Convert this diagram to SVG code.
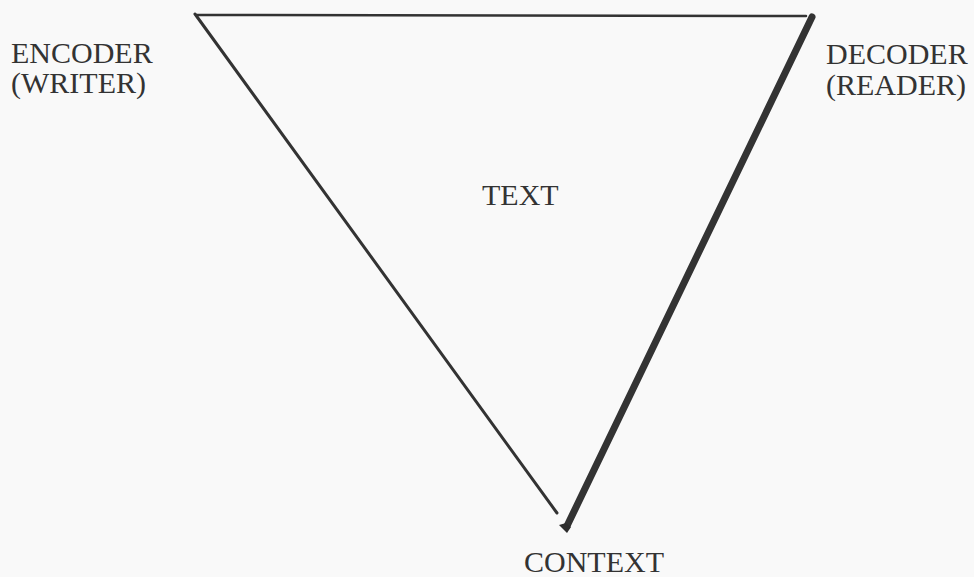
<svg xmlns="http://www.w3.org/2000/svg" width="974" height="577" viewBox="0 0 974 577">
<style>
.lbl{font-family:"Liberation Serif","Times New Roman",serif;font-size:30px;fill:#333}
.ln{stroke:#333;fill:none;stroke-linecap:round}
</style>
<rect width="974" height="577" fill="#f9f9f9"/>
<g id="connectors">
<line class="ln" x1="197" y1="15" x2="806" y2="16" stroke-width="2.5"/>
<line class="ln" x1="195" y1="14" x2="557" y2="513" stroke-width="3"/>
<line class="ln" x1="812" y1="17" x2="567" y2="526" stroke-width="7" stroke="#2d2d2d"/>
<path d="M559 525 L566 523 L571 527 L567 533 Z" fill="#2d2d2d"/>
</g>
<g id="encoder"><text class="lbl" x="11" y="63">ENCODER</text><text class="lbl" x="11" y="93">(WRITER)</text></g>
<g id="decoder"><text class="lbl" x="826" y="64">DECODER</text><text class="lbl" x="826" y="95">(READER)</text></g>
<g id="text"><text class="lbl" x="482" y="205">TEXT</text></g>
<g id="context"><text class="lbl" x="524" y="572">CONTEXT</text></g>
</svg>
